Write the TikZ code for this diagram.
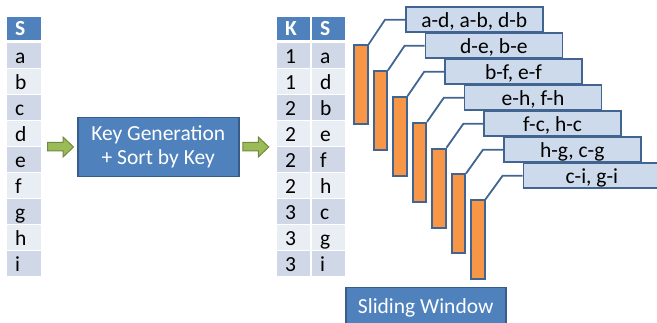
\documentclass[tikz,border=0pt]{standalone}
\usepackage{fontspec}
\setmainfont{Carlito}
\usetikzlibrary{calc}
\definecolor{hdr}{RGB}{79,129,189}
\definecolor{rowdark}{RGB}{208,216,232}
\definecolor{rowlight}{RGB}{233,237,244}
\definecolor{edge}{RGB}{65,100,145}
\definecolor{boxedge}{RGB}{56,93,138}
\definecolor{barfill}{RGB}{247,150,70}
\definecolor{tagfill}{RGB}{204,218,236}
\definecolor{arrfill}{RGB}{155,187,89}
\definecolor{arredge}{RGB}{113,137,63}
\tikzset{
  txt/.style={font=\fontsize{21.5}{24}\selectfont},
  cell/.style={txt, anchor=north west, inner ysep=0pt, inner xsep=8pt,
    text width=#1-16pt, align=left, minimum height=25pt,
    text height=15pt, text depth=0pt},
  headcell/.style={cell=#1, fill=hdr, text=white, font=\fontsize{21.5}{24}\selectfont\bfseries,
    minimum height=23pt, text height=13pt},
  bluebox/.style={txt, anchor=north west, fill=hdr, draw=boxedge, line width=1.5pt,
    text=white, align=center, inner sep=0pt},
  tag/.style={txt, anchor=north west, fill=tagfill, draw=edge, line width=1.5pt,
    minimum width=137pt, minimum height=25pt, inner sep=0pt,
    text height=15pt, text depth=0pt},
  bar/.style={anchor=north west, fill=barfill, draw=edge, line width=2pt,
    minimum width=13.5pt, minimum height=79pt, inner sep=0pt},
  conn/.style={draw=edge, line width=1.8pt},
  greenarrow/.style={fill=arrfill, draw=arredge, line width=1pt, line join=miter}
}
\begin{document}
\begin{tikzpicture}[x=1pt,y=-1pt]
\useasboundingbox (0,0) rectangle (657,323);
\clip (0,0) rectangle (657,323);

% input table
\node[headcell=34pt] (lh) at (7,17) {S};
\foreach \t/\c [count=\i from 0] in {a/rowdark,b/rowlight,c/rowdark,d/rowlight,e/rowdark,f/rowlight,g/rowdark,h/rowlight,i/rowdark}
  \node[cell=34pt, fill=\c] (l\i) at (7,43+26*\i) {\t};

% sorted table
\node[headcell=33pt] (kh) at (277,17) {K};
\node[headcell=33pt] (sh) at (312,17) {S};
\foreach \kv/\t/\c [count=\i from 0] in {1/a/rowdark,1/d/rowlight,2/b/rowdark,2/e/rowlight,2/f/rowdark,2/h/rowlight,3/c/rowdark,3/g/rowlight,3/i/rowdark}{
  \node[cell=33pt, fill=\c] (k\i) at (277,43+26*\i) {\kv};
  \node[cell=33pt, fill=\c] (s\i) at (312,43+26*\i) {\t};
}

% processing steps
\node[bluebox, minimum width=161pt, minimum height=59pt] (keygen) at (77,117)
  {Key Generation\\+ Sort by Key};
\node[bluebox, minimum width=160pt, minimum height=40pt] (slide) at (345,287)
  {Sliding Window};

% block arrows between the stages
\foreach \dx in {0,195.3}
  \draw[greenarrow] (47.5+\dx,142.5) -- (63+\dx,142.5) -- (63+\dx,137) -- (73.5+\dx,147)
    -- (63+\dx,157) -- (63+\dx,151) -- (47.5+\dx,151) -- cycle;

% windows and the pairs they produce
\foreach \p [count=\i from 0] in {{a-d, a-b, d-b},{d-e, b-e},{b-f, e-f},{e-h, f-h},{f-c, h-c},{h-g, c-g},{c-i, g-i}}{
  \node[bar] (b\i) at (353+19.5*\i,44.5+25.8*\i) {};
  \node[tag] (t\i) at (405+19.6*\i,6.5+26*\i) {\p};
  \draw[conn] (b\i.north east) -- ($(t\i.west)+(-20,0)$) -- (t\i.west);
}
\end{tikzpicture}
\end{document}
